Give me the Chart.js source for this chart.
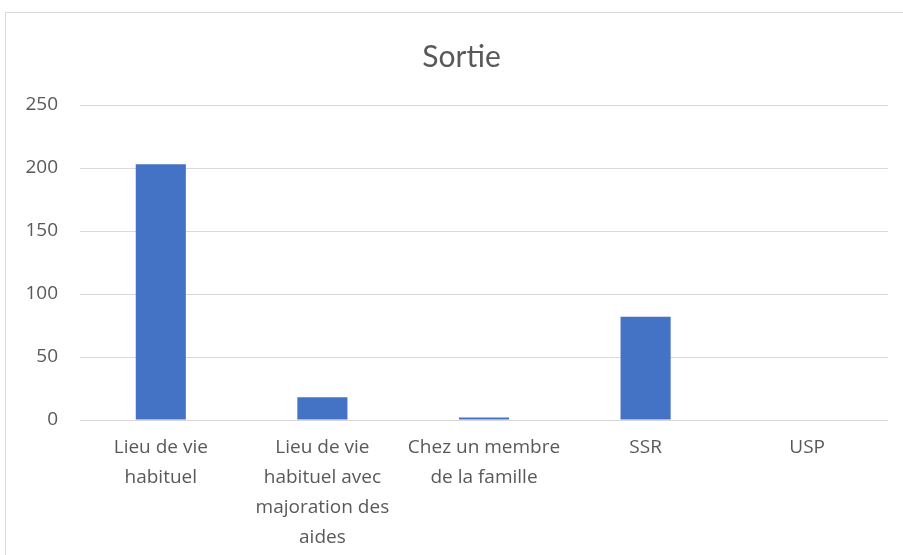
<!DOCTYPE html>
<html>
<head>
<meta charset="utf-8">
<script src="https://cdn.jsdelivr.net/npm/chart.js@4"></script>
<style>
  html, body { margin: 0; padding: 0; background: #ffffff; }
  #wrap { position: relative; width: 903px; height: 555px; overflow: hidden; }
  #frame { position: absolute; left: 5px; top: 12px; width: 960px; height: 600px; border: 1px solid #d9d9d9; box-sizing: border-box; }
  canvas { position: absolute; left: 0; top: 0; }
</style>
</head>
<body>
<div id="wrap">
  <div id="frame"></div>
  <canvas id="c" width="903" height="555"></canvas>
</div>
<script>
const categories = [
  ["Lieu de vie", "habituel"],
  ["Lieu de vie", "habituel avec", "majoration des", "aides"],
  ["Chez un membre", "de la famille"],
  "SSR",
  "USP"
];
const values = [203, 18, 2, 82, 0];
const yTicks = [0, 50, 100, 150, 200, 250];
const chartTitle = "Sortie";

const textColor = "#595959";
const gridColor = "#d9d9d9";
const titleFont = "Lato, 'Open Sans', sans-serif";
const tickFont = "'Open Sans', Lato, sans-serif";

const shiftTitle = {
  id: "shiftTitle",
  afterLayout(chart) {
    const t = chart.titleBlock;
    if (t) { t.left = 35; t.right = chart.chartArea.right; }
  }
};

new Chart(document.getElementById("c"), {
  type: "bar",
  data: {
    labels: categories,
    datasets: [{
      data: values,
      backgroundColor: "#4472c4",
      borderWidth: 0,
      categoryPercentage: 1.0,
      barPercentage: 0.31
    }]
  },
  options: {
    responsive: false,
    animation: false,
    layout: { padding: { left: 0, right: 15, top: 0, bottom: 2 } },
    plugins: {
      legend: { display: false },
      tooltip: { enabled: false },
      title: {
        display: true,
        text: chartTitle,
        color: textColor,
        font: { family: titleFont, size: 30, weight: "normal", lineHeight: 1.2 },
        padding: { top: 39, bottom: 30 }
      }
    },
    scales: {
      x: {
        afterFit: (s) => { s.height = 133; },
        grid: { display: false, drawTicks: false },
        border: { display: false },
        ticks: {
          color: textColor,
          font: { family: tickFont, size: 19, lineHeight: 1.58 },
          padding: 13,
          maxRotation: 0,
          autoSkip: false
        }
      },
      y: {
        min: 0,
        max: 250,
        afterFit: (s) => { s.width = 80; },
        afterBuildTicks: (s) => { s.ticks = yTicks.map(v => ({ value: v })); },
        grid: { color: gridColor, lineWidth: 1, drawTicks: false },
        border: { display: false },
        ticks: {
          color: textColor,
          font: { family: tickFont, size: 19 },
          padding: 22
        }
      }
    }
  },
  plugins: [shiftTitle]
});
</script>
</body>
</html>
